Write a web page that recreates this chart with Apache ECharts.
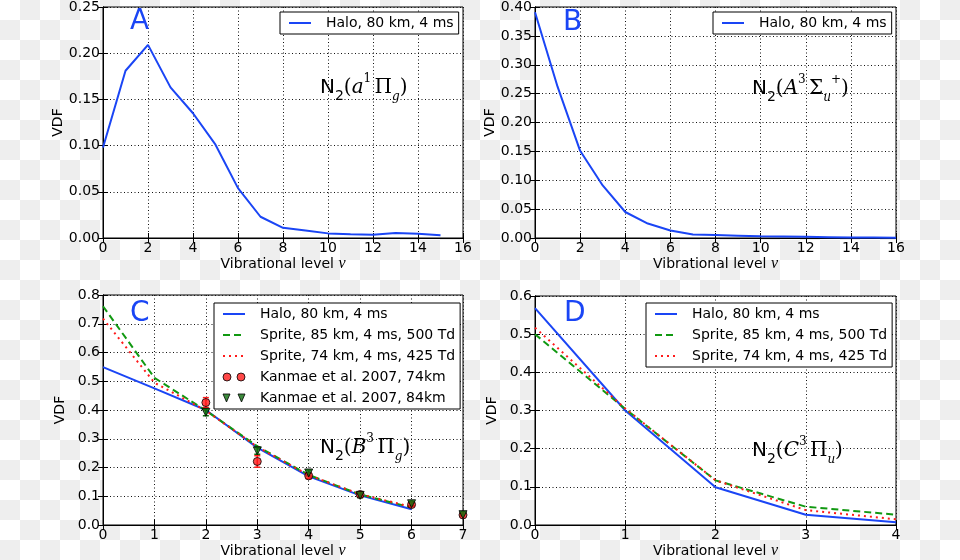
<!DOCTYPE html>
<html>
<head>
<meta charset="utf-8">
<script src="https://cdn.jsdelivr.net/npm/echarts@6/dist/echarts.min.js"></script>
<style>
html,body{margin:0;padding:0;}
body{background:repeating-conic-gradient(#eeeeee 0 25%, #ffffff 0 50%) 0 0/40px 40px;}
#chart{width:960px;height:560px;}
</style>
</head>
<body>
<div id="chart"></div>
<script>
// ---------- data ----------
const levelsA = [0,1,2,3,4,5,6,7,8,9,10,11,12,13,14,15];
const haloA   = [0.098,0.181,0.209,0.163,0.135,0.101,0.054,0.023,0.011,0.008,0.005,0.004,0.0035,0.0055,0.0045,0.003];

const levelsB = [0,1,2,3,4,5,6,7,8,9,10,11,12,13,14,15,16];
const haloB   = [0.391,0.262,0.151,0.091,0.045,0.025,0.013,0.006,0.005,0.004,0.003,0.0025,0.002,0.0015,0.001,0.001,0.0005];

const levelsC   = [0,1,2,3,4,5,6];
const haloC     = [0.549,0.475,0.400,0.269,0.169,0.103,0.055];
const sprite85C = [0.761,0.512,0.398,0.274,0.174,0.106,0.061];
const sprite74C = [0.718,0.495,0.398,0.272,0.173,0.107,0.063];

const kanmaeLevels = [2,3,4,5,6,7];
const kanmae74     = [0.426,0.221,0.171,0.106,0.071,0.035];
const kanmae74Err  = [0.017,0.020,0.010,0.008,0.006,0.004];
const kanmae84     = [0.392,0.258,0.181,0.103,0.074,0.036];
const kanmae84Err  = [0.012,0.012,0.010,0.008,0.006,0.004];

const levelsD   = [0,1,2,3,4];
const haloD     = [0.568,0.300,0.099,0.027,0.007];
const sprite85D = [0.500,0.304,0.117,0.048,0.027];
const sprite74D = [0.517,0.305,0.117,0.039,0.015];

const nameHalo = 'Halo, 80 km, 4 ms';
const nameS85  = 'Sprite, 85 km, 4 ms, 500 Td';
const nameS74  = 'Sprite, 74 km, 4 ms, 425 Td';
const nameK74  = 'Kanmae et al. 2007, 74km';
const nameK84  = 'Kanmae et al. 2007, 84km';

// ---------- styles ----------
const BLUE = '#1a45f5', GREEN = '#119911', RED = '#ff1a1a', TRI = '#0d6e0d';
const FONT = 'DejaVu Sans';
const SERIF = 'DejaVu Serif';

const pair = (xs, ys) => xs.map((x, i) => [x, ys[i]]);
const triple = (xs, ys, es) => xs.map((x, i) => [x, ys[i], es[i]]);

const grids = [
  {left:103, top:5,   width:360, height:233},
  {left:535, top:5,   width:361, height:233},
  {left:103, top:295, width:360, height:234},
  {left:535, top:296, width:361, height:233}
];
const xSpec = [ {max:16, interval:2}, {max:16, interval:2}, {max:7, interval:1}, {max:4, interval:1} ];
const ySpec = [ {max:0.25, interval:0.05, d:2}, {max:0.40, interval:0.05, d:2}, {max:0.8, interval:0.1, d:1}, {max:0.6, interval:0.1, d:1} ];

const xAxes = [], yAxes = [];
grids.forEach((g, i) => {
  xAxes.push({
    type:'value', gridIndex:i, min:0, max:xSpec[i].max, interval:xSpec[i].interval,
    name:'Vibrational level {i|v}', nameLocation:'middle', nameGap:18,
    nameTextStyle:{color:'#000', fontFamily:FONT, fontSize:14, verticalAlign:'top',
      rich:{i:{fontFamily:'Liberation Serif', fontStyle:'italic', fontSize:16, color:'#000'}}},
    axisLine:{show:true, lineStyle:{color:'#000', width:1}},
    axisTick:{show:true, inside:true, length:5, lineStyle:{color:'#000'}},
    axisLabel:{color:'#000', fontFamily:FONT, fontSize:14, margin:3},
    splitLine:{show:true, lineStyle:{color:'#111', width:1, type:[1,2.5]}}
  });
  yAxes.push({
    type:'value', gridIndex:i, min:0, max:ySpec[i].max, interval:ySpec[i].interval,
    name:'VDF', nameLocation:'middle', nameGap:36,
    nameTextStyle:{color:'#000', fontFamily:FONT, fontSize:14},
    axisLine:{show:true, lineStyle:{color:'#000', width:1}},
    axisTick:{show:true, inside:true, length:5, lineStyle:{color:'#000'}},
    axisLabel:{color:'#000', fontFamily:FONT, fontSize:14, margin:3,
      formatter:(v) => v.toFixed(ySpec[i].d)},
    splitLine:{show:true, lineStyle:{color:'#111', width:1, type:[1,2.5]}}
  });
});
// mirror axes for ticks on top/right
grids.forEach((g, i) => {
  xAxes.push({
    type:'value', gridIndex:i, position:'top', min:0, max:xSpec[i].max, interval:xSpec[i].interval,
    axisLine:{show:true, lineStyle:{color:'#000'}},
    axisTick:{show:true, inside:true, length:5, lineStyle:{color:'#000'}},
    axisLabel:{show:false}, splitLine:{show:false}
  });
  yAxes.push({
    type:'value', gridIndex:i, position:'right', min:0, max:ySpec[i].max, interval:ySpec[i].interval,
    axisLine:{show:true, lineStyle:{color:'#000'}},
    axisTick:{show:true, inside:true, length:5, lineStyle:{color:'#000'}},
    axisLabel:{show:false}, splitLine:{show:false}
  });
});

function lineSeries(name, data, idx, color, type) {
  return {
    name, type:'line', xAxisIndex:idx, yAxisIndex:idx, data,
    symbol:'none', showSymbol:false, animation:false,
    lineStyle:{color, width:2, type:type || 'solid'},
    itemStyle:{color}, z:3
  };
}
function errSeries(data, color) {
  return {
    type:'custom', xAxisIndex:2, yAxisIndex:2, data, clip:true, animation:false, z:4,
    renderItem:(params, api) => {
      const x = api.value(0), y = api.value(1), e = api.value(2);
      const t = api.coord([x, y + e]), b = api.coord([x, y - e]);
      const hw = 3;
      const st = {stroke:color, lineWidth:1.5};
      return {type:'group', children:[
        {type:'line', shape:{x1:t[0], y1:t[1], x2:b[0], y2:b[1]}, style:st},
        {type:'line', shape:{x1:t[0]-hw, y1:t[1], x2:t[0]+hw, y2:t[1]}, style:st},
        {type:'line', shape:{x1:b[0]-hw, y1:b[1], x2:b[0]+hw, y2:b[1]}, style:st}
      ]};
    }
  };
}

const series = [
  lineSeries(nameHalo, pair(levelsA, haloA), 0, BLUE),
  lineSeries(nameHalo, pair(levelsB, haloB), 1, BLUE),
  lineSeries(nameHalo, pair(levelsC, haloC), 2, BLUE),
  lineSeries(nameS85, pair(levelsC, sprite85C), 2, GREEN, [7,4]),
  lineSeries(nameS74, pair(levelsC, sprite74C), 2, RED, [2,4]),
  errSeries(triple(kanmaeLevels, kanmae74, kanmae74Err), RED),
  errSeries(triple(kanmaeLevels, kanmae84, kanmae84Err), TRI),
  {name:nameK74, type:'scatter', xAxisIndex:2, yAxisIndex:2, data:pair(kanmaeLevels, kanmae74),
    symbol:'circle', symbolSize:8, clip:true, animation:false, z:5,
    itemStyle:{color:RED, borderColor:'#000', borderWidth:1}},
  {name:nameK84, type:'scatter', xAxisIndex:2, yAxisIndex:2, data:pair(kanmaeLevels, kanmae84),
    symbol:'triangle', symbolRotate:180, symbolSize:8, clip:true, animation:false, z:5,
    itemStyle:{color:TRI, borderColor:'#000', borderWidth:1}},
  lineSeries(nameHalo, pair(levelsD, haloD), 3, BLUE),
  lineSeries(nameS85, pair(levelsD, sprite85D), 3, GREEN, [7,4]),
  lineSeries(nameS74, pair(levelsD, sprite74D), 3, RED, [2,4])
];

const ICON_CIRCLES = 'path://M0,4a4,4 0 1,0 8,0a4,4 0 1,0 -8,0Z M14,4a4,4 0 1,0 8,0a4,4 0 1,0 -8,0Z';
const ICON_TRIS = 'path://M0,0L7,0L3.5,8Z M15,0L22,0L18.5,8Z';

function legendItem(n) {
  if (n === nameK74) return {name:n, icon:ICON_CIRCLES, itemStyle:{color:RED, borderColor:'#000', borderWidth:1}};
  if (n === nameK84) return {name:n, icon:ICON_TRIS, itemStyle:{color:TRI, borderColor:'#000', borderWidth:1}};
  return {name:n, itemStyle:{opacity:0}};
}
function legend(left, top, names) {
  return {
    left, top, orient:'vertical', data:names.map(legendItem),
    backgroundColor:'#fff', borderColor:'#000', borderWidth:1, borderRadius:0,
    padding:[3,5,3,8], itemWidth:22, itemHeight:8, itemGap:5,
    textStyle:{color:'#000', fontFamily:FONT, fontSize:14, lineHeight:16, padding:[0,0,0,10]},
    selectedMode:false
  };
}

const annFont = 20;
function ann(left, top, rich, text) {
  return {type:'text', left, top, z:10, style:{text, rich, fill:'#000'}};
}
const baseRich = {
  n:{fontFamily:FONT, fontSize:annFont, color:'#000', lineHeight:30},
  s:{fontFamily:FONT, fontSize:14, color:'#000', verticalAlign:'bottom', lineHeight:30},
  p:{fontFamily:SERIF, fontSize:annFont, color:'#000', lineHeight:30},
  i:{fontFamily:SERIF, fontStyle:'italic', fontSize:annFont, color:'#000', lineHeight:30},
  sup:{fontFamily:SERIF, fontSize:12, color:'#000', verticalAlign:'top', lineHeight:30},
  sub:{fontFamily:SERIF, fontStyle:'italic', fontSize:12, color:'#000', verticalAlign:'bottom', lineHeight:30}
};

const letterStyle = (t) => ({text:t, fill:BLUE, fontFamily:FONT, fontSize:28});

const option = {
  backgroundColor:'transparent',
  animation:false,
  grid: grids.map(g => Object.assign({show:true, backgroundColor:'#fff', borderColor:'#000', borderWidth:1, containLabel:false}, g)),
  xAxis: xAxes,
  yAxis: yAxes,
  legend: [
    legend(280, 12, [nameHalo]),
    legend(713, 12, [nameHalo]),
    legend(214, 303, [nameHalo, nameS85, nameS74, nameK74, nameK84]),
    legend(646, 303, [nameHalo, nameS85, nameS74])
  ],
  series,
  graphic: [
    {type:'text', left:130, top:8, z:10, style:letterStyle('A')},
    {type:'text', left:563, top:9, z:10, style:letterStyle('B')},
    {type:'text', left:130, top:300, z:10, style:letterStyle('C')},
    {type:'text', left:564, top:300, z:10, style:letterStyle('D')},
    ann(320, 73, baseRich, '{n|N}{s|2}{p|(}{i|a}{sup|1} {p|Π}{sub|g}{p|)}'),
    ann(752, 74, baseRich, '{n|N}{s|2}{p|(}{i|A}{sup|3} {p|Σ}{sub|u}{sup|+}{p|)}'),
    ann(320, 433, baseRich, '{n|N}{s|2}{p|(}{i|B}{sup|3} {p|Π}{sub|g}{p|)}'),
    ann(752, 436, baseRich, '{n|N}{s|2}{p|(}{i|C}{sup|3} {p|Π}{sub|u}{p|)}')
  ]
};

const chart = echarts.init(document.getElementById('chart'), null, {renderer:'canvas'});
chart.setOption(option);
</script>
</body>
</html>
